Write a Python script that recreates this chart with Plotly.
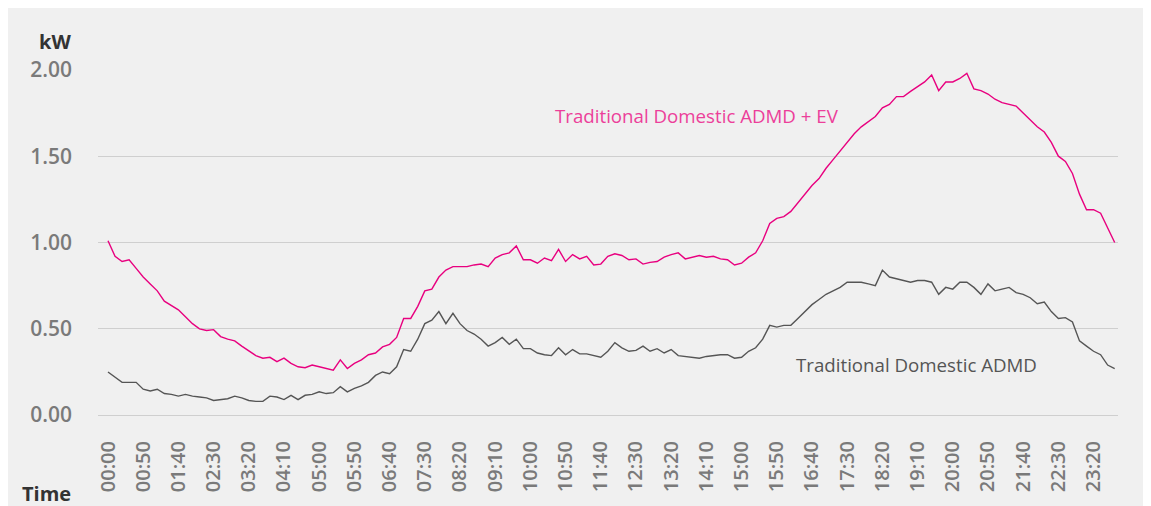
import plotly.graph_objects as go

# Time of day in minutes (10-minute steps from 00:00 to 23:50)
minutes = list(range(0, 1440, 10))

admd_ev = [
    1.01, 0.92, 0.89, 0.90, 0.85, 0.80, 0.76, 0.72, 0.66, 0.635,
    0.61, 0.57, 0.53, 0.50, 0.49, 0.495, 0.455, 0.44, 0.43, 0.40,
    0.37, 0.345, 0.33, 0.335, 0.31, 0.33, 0.30, 0.28, 0.275, 0.29,
    0.28, 0.27, 0.26, 0.32, 0.27, 0.30, 0.32, 0.35, 0.36, 0.395,
    0.41, 0.45, 0.56, 0.56, 0.63, 0.72, 0.73, 0.80, 0.84, 0.86,
    0.86, 0.86, 0.87, 0.875, 0.86, 0.91, 0.93, 0.94, 0.98, 0.90,
    0.90, 0.88, 0.91, 0.895, 0.96, 0.89, 0.93, 0.905, 0.92, 0.87,
    0.875, 0.92, 0.935, 0.925, 0.90, 0.905, 0.875, 0.885, 0.89, 0.915,
    0.93, 0.94, 0.905, 0.915, 0.925, 0.915, 0.92, 0.905, 0.90, 0.87,
    0.88, 0.915, 0.94, 1.01, 1.11, 1.14, 1.15, 1.18, 1.23, 1.28,
    1.33, 1.37, 1.43, 1.48, 1.53, 1.58, 1.63, 1.67, 1.70, 1.73,
    1.78, 1.80, 1.845, 1.845, 1.875, 1.90, 1.93, 1.97, 1.88, 1.93,
    1.93, 1.95, 1.98, 1.89, 1.88, 1.86, 1.83, 1.81, 1.80, 1.79,
    1.75, 1.71, 1.67, 1.64, 1.58, 1.50, 1.47, 1.40, 1.28, 1.19,
    1.19, 1.17, 1.08, 1.00,
]

admd = [
    0.25, 0.22, 0.19, 0.19, 0.19, 0.15, 0.14, 0.15, 0.125, 0.12,
    0.11, 0.12, 0.11, 0.105, 0.10, 0.085, 0.09, 0.095, 0.11, 0.10,
    0.085, 0.08, 0.08, 0.11, 0.105, 0.09, 0.115, 0.09, 0.115, 0.12,
    0.135, 0.125, 0.13, 0.165, 0.135, 0.155, 0.17, 0.19, 0.23, 0.25,
    0.24, 0.28, 0.38, 0.37, 0.44, 0.53, 0.55, 0.60, 0.53, 0.59,
    0.53, 0.49, 0.47, 0.44, 0.40, 0.42, 0.45, 0.41, 0.44, 0.385,
    0.385, 0.36, 0.35, 0.345, 0.39, 0.35, 0.38, 0.355, 0.355, 0.345,
    0.335, 0.37, 0.42, 0.39, 0.37, 0.375, 0.40, 0.37, 0.385, 0.36,
    0.38, 0.345, 0.34, 0.335, 0.33, 0.34, 0.345, 0.35, 0.35, 0.33,
    0.335, 0.37, 0.39, 0.44, 0.52, 0.51, 0.52, 0.52, 0.56, 0.60,
    0.64, 0.67, 0.70, 0.72, 0.74, 0.77, 0.77, 0.77, 0.76, 0.75,
    0.84, 0.80, 0.79, 0.78, 0.77, 0.78, 0.78, 0.77, 0.70, 0.74,
    0.73, 0.77, 0.77, 0.74, 0.70, 0.76, 0.72, 0.73, 0.74, 0.71,
    0.70, 0.68, 0.645, 0.655, 0.60, 0.56, 0.565, 0.54, 0.43, 0.40,
    0.37, 0.35, 0.29, 0.27,
]

tick_minutes = [0, 50, 100, 150, 200, 250, 300, 350, 400, 450, 500, 550, 600, 650,
                700, 750, 800, 850, 900, 950, 1000, 1050, 1100, 1150, 1200, 1250,
                1300, 1350, 1400]
tick_labels = ["00:00", "00:50", "01:40", "02:30", "03:20", "04:10", "05:00", "05:50",
               "06:40", "07:30", "08:20", "09:10", "10:00", "10:50", "11:40", "12:30",
               "13:20", "14:10", "15:00", "15:50", "16:40", "17:30", "18:20", "19:10",
               "20:00", "20:50", "21:40", "22:30", "23:20"]

y_ticks = [0, 0.5, 1.0, 1.5, 2.0]

PINK = "#e8007f"
GREY = "#555555"
BG = "#f0f0f0"
GRID = "#cfcfcf"

fig = go.Figure()
fig.add_trace(go.Scatter(x=minutes, y=admd_ev, mode="lines",
                         line=dict(color=PINK, width=1.4),
                         name="Traditional Domestic ADMD + EV", showlegend=False))
fig.add_trace(go.Scatter(x=minutes, y=admd, mode="lines",
                         line=dict(color=GREY, width=1.4),
                         name="Traditional Domestic ADMD", showlegend=False))

fig.add_annotation(x=837, y=1.733, xref="x", yref="y",
                   text="Traditional Domestic ADMD + EV", showarrow=False,
                   font=dict(family="Open Sans", size=18.7, color="#ec3f9a"))
fig.add_annotation(x=1149, y=0.296, xref="x", yref="y",
                   text="Traditional Domestic ADMD", showarrow=False,
                   font=dict(family="Open Sans", size=18.7, color="#555555"))

fig.add_annotation(x=-0.0245, y=1.078, xref="paper", yref="paper",
                   xanchor="right", yanchor="middle",
                   text="<b>kW</b>", showarrow=False,
                   font=dict(family="Open Sans", size=20, color="#333333"))
fig.add_annotation(x=-0.0245, y=-0.223, xref="paper", yref="paper",
                   xanchor="right", yanchor="middle",
                   text="<b>Time</b>", showarrow=False,
                   font=dict(family="Open Sans", size=20, color="#333333"))

fig.update_layout(
    width=1143, height=498,
    paper_bgcolor=BG, plot_bgcolor=BG,
    margin=dict(l=90, r=33, t=61, b=90),
    font=dict(family="Open Sans"),
    xaxis=dict(range=[-14.2, 1434.7], tickmode="array", tickvals=tick_minutes,
               ticktext=tick_labels, tickangle=-90, showgrid=False, zeroline=False,
               showline=False, ticks="", ticklabelstandoff=20,
               tickfont=dict(family="Open Sans", size=20, color="#7a7a7a", weight=600)),
    yaxis=dict(range=[-0.005, 2.005], tickmode="array", tickvals=y_ticks,
               tickformat=".2f", showgrid=True, gridcolor=GRID, gridwidth=1,
               zeroline=True, zerolinecolor=GRID, zerolinewidth=1,
               showline=False, ticks="", ticklabelstandoff=25,
               tickfont=dict(family="Open Sans", size=21, color="#7a7a7a", weight=600)),
)

fig.write_html("out.html")
